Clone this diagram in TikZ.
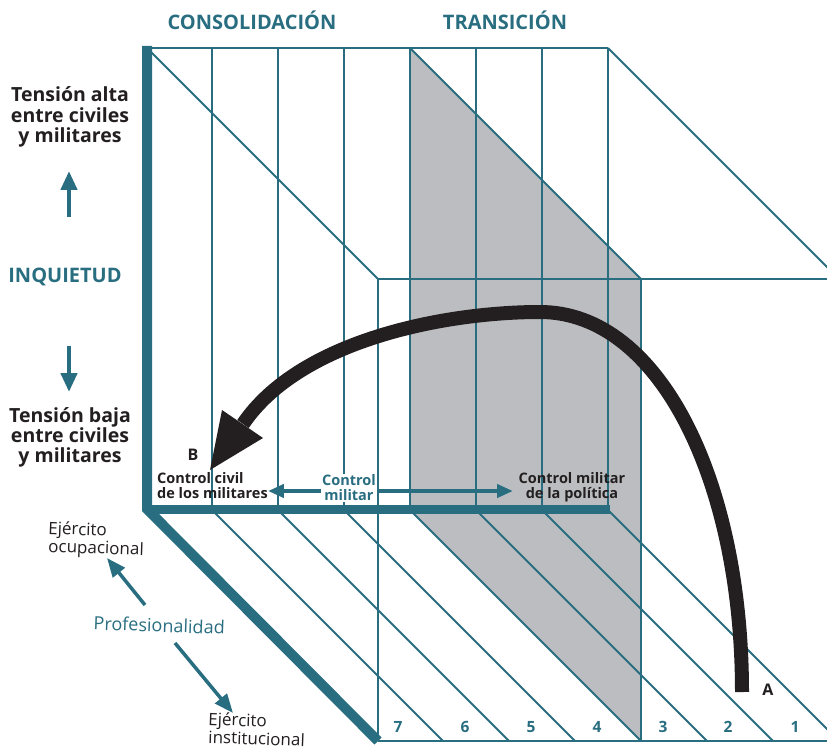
\documentclass[tikz,border=0pt]{standalone}
\usepackage{fontspec}
\setmainfont{Open Sans}
\usetikzlibrary{arrows.meta}
\definecolor{tealc}{RGB}{41,110,128}
\definecolor{darkc}{RGB}{35,31,32}
\definecolor{grayc}{RGB}{188,189,192}
\begin{document}
\begin{tikzpicture}[x=1pt,y=-1pt,
  gline/.style={draw=tealc,line width=1.8pt},
  gthick/.style={draw=tealc,line width=10pt},
  curvearrow/.style={draw=darkc,line width=14pt,line cap=butt},
  tarrow/.style={draw=tealc,line width=4.5pt,-{Triangle[length=19pt,width=16pt]}},
  sarrow/.style={draw=tealc,line width=4pt,-{Triangle[length=16pt,width=13pt]}},
  parrow/.style={draw=tealc,line width=3.5pt,-{Triangle[length=19pt,width=15pt]}},
  headtxt/.style={font=\fontsize{20}{24}\selectfont\bfseries,text=tealc,anchor=base,inner sep=0pt},
  sidetxt/.style={font=\fontsize{19.5}{22}\selectfont\bfseries,text=darkc,anchor=base,inner sep=0pt},
  smalltxt/.style={font=\fontsize{14.5}{16}\selectfont\bfseries,text=darkc,anchor=base,inner sep=0pt},
  numtxt/.style={font=\fontsize{15.5}{18}\selectfont\bfseries,text=tealc,anchor=base,inner sep=0pt},
  bltxt/.style={font=\fontsize{16}{19}\selectfont\bfseries,text=darkc,anchor=base,inner sep=0pt},
  axtxt/.style={font=\fontsize{17}{19}\selectfont,text=darkc,anchor=base west,inner sep=0pt,rotate=-2},
  proftxt/.style={font=\fontsize{18}{20}\selectfont,text=tealc,anchor=base,inner sep=0pt,rotate=-2},
]
\useasboundingbox (0,0) rectangle (827,751);
\begin{scope}
\clip (0,0) rectangle (827,751);
% shaded slice
\fill[grayc] (410,48) -- (641,279) -- (641,741) -- (410,510) -- cycle;
% back plane verticals
\foreach \x in {212,278,344,410,476,542,608} \draw[gline] (\x,48) -- (\x,510);
\draw[gline,line width=2.4pt] (147,48) -- (608,48);
% top plane diagonals
\draw[gline] (147,48) -- (378,279);
\draw[gline] (410,48) -- (641,279);
\draw[gline] (608,48) -- (839,279);
% bottom plane diagonals
\foreach \x in {212,278,344,410,476,542,608} \draw[gline] (\x,510) -- ({\x+231},741);
% label with white ground
\node[font=\fontsize{14.5}{15}\selectfont\bfseries,text=tealc,fill=white,inner sep=1pt,align=center] (cm) at (349,488) {Control\\militar};
% front plane
\draw[gline] (378,279) -- (840,279);
\draw[gline] (378,279) -- (378,741);
\draw[gline] (641,279) -- (641,741);
\draw[gline] (378,741) -- (840,741);
% thick axes
\draw[gthick,line join=miter] (147,46) -- (147,509) -- (378,741);
\draw[tealc,line width=9pt] (147,509) -- (610,509);
% main arrow A -> B
\coordinate (A0) at (742,692);
\coordinate (B0) at (210,470);
\draw[curvearrow] (A0) .. controls (742,482) and (660,312) .. (540,312) .. controls (445,312) and (300,340) .. (243,424);
\fill[darkc] (B0) -- (222,410) -- (263,438) -- cycle;
\end{scope}
% titles
\node[headtxt] (cons) at (252,30) {CONSOLIDACIÓN};
\node[headtxt] (trans) at (505,30) {TRANSICIÓN};
% left labels
\node[sidetxt] (ta1) at (70,102) {Tensión alta};
\node[sidetxt] (ta2) at (70,123) {entre civiles};
\node[sidetxt] (ta3) at (70,143) {y militares};
\node[headtxt] (inq) at (65,283) {INQUIETUD};
\node[sidetxt] (tb1) at (70,422) {Tensión baja};
\node[sidetxt] (tb2) at (70,442) {entre civiles};
\node[sidetxt] (tb3) at (70,462) {y militares};
\coordinate (up0) at (69,217);
\coordinate (up1) at (69,171);
\coordinate (dn0) at (69,346);
\coordinate (dn1) at (69,392);
\draw[tarrow] (up0) -- (up1);
\draw[tarrow] (dn0) -- (dn1);
% control labels
\node[bltxt] (B) at (193,460) {B};
\node[smalltxt,anchor=base west] (cc1) at (157,483) {Control civil};
\node[smalltxt,anchor=base west] (cc2) at (157,498) {de los militares};
\node[smalltxt] (cp1) at (572,483) {Control militar};
\node[smalltxt] (cp2) at (572,498) {de la política};
\coordinate (cpL) at (513,491);
\draw[sarrow] (cm.west |- 0,491) -- (cc2.east |- 0,491);
\draw[sarrow] (cm.east |- 0,491) -- (cpL);
% numbers
\foreach \n/\x in {7/398,6/465,5/531,4/597,3/663,2/728,1/795}
  \node[numtxt] (n\n) at (\x,732) {\n};
\node[bltxt] (A) at (768,695) {A};
% professionalism axis
\node[axtxt] (eo1) at (48,534) {Ejército};
\node[axtxt] (eo2) at (48,552) {ocupacional};
\node[proftxt] (prof) at (159,632) {Profesionalidad};
\node[axtxt] (ei1) at (208,725) {Ejército};
\node[axtxt] (ei2) at (208,743) {institucional};
\coordinate (pu0) at (145,605);
\coordinate (pu1) at (107,558);
\coordinate (pd0) at (175,643);
\coordinate (pd1) at (233,713);
\draw[parrow] (pu0) -- (pu1);
\draw[parrow] (pd0) -- (pd1);
\end{tikzpicture}
\end{document}
